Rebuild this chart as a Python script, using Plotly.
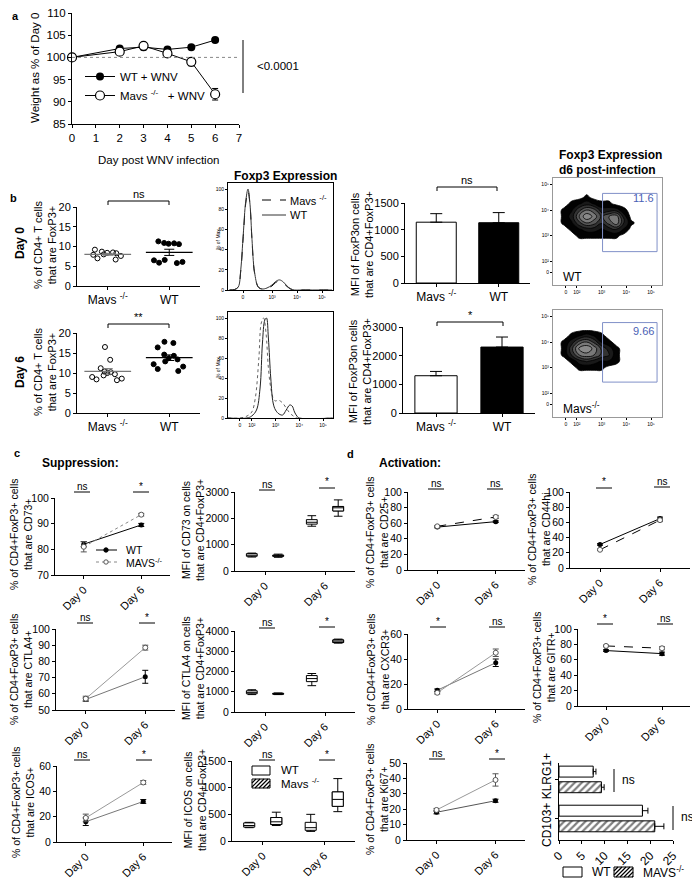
import numpy as np
import plotly.graph_objects as go

# the page body keeps its default 8px margin, so the figure is 8px smaller
# and every pixel position below is measured in window coordinates
OFF = 8
W, H = 700 - OFF, 885 - OFF
FONT = "Liberation Sans, Arial, sans-serif"

# ---------------- panel a: body weight
days_a = [0, 2, 3, 4, 5, 6]
wt_weight = [100, 102.0, 102.3, 101.8, 102.3, 103.9]
wt_weight_err = [0, 0.4, 0.6, 0.4, 0.4, 0.4]
mavs_weight = [100, 101.3, 102.6, 100.9, 99.0, 91.7]
mavs_weight_err = [0, 0.4, 0.6, 0.8, 0.9, 1.3]

# ---------------- panel b: % FoxP3+ of CD4+ T cells
mavs_treg_d0 = [9.2, 8.7, 8.4, 8.0, 7.6, 7.9, 6.7, 7.0, 8.3, 8.5]
wt_treg_d0 = [10.8, 10.6, 10.7, 10.9, 11.3, 6.5, 5.9, 5.8, 6.1, 6.6]
mavs_treg_d6 = [16.5, 13.3, 11.2, 10.4, 10.2, 10.0, 9.7, 9.4, 9.0, 8.6, 8.4, 8.2]
wt_treg_d6 = [17.8, 17.5, 16.4, 14.6, 14.3, 13.7, 13.4, 12.9, 12.2, 11.6, 11.0, 10.5]

# FoxP3 MFI bars (Mavs, WT)
mfi_d0 = [1140, 1130]
mfi_d0_err = [160, 190]
mfi_d6 = [1300, 2300]
mfi_d6_err = [150, 350]

# histograms (x in log decades, y in % of max)
hist_d0_x = [1.3, 1.5, 1.65, 1.75, 1.85, 1.95, 2.04, 2.12, 2.2, 2.3, 2.45, 2.6, 2.8,
             3.0, 3.15, 3.3, 3.45, 3.6, 3.75, 3.9, 4.2, 5.4]
hist_d0_wt = [0, 0.5, 3, 20, 55, 88, 100, 85, 50, 18, 3, 1, 2, 5, 8.5, 10, 8, 4, 1, 0, 0, 0]
hist_d0_mavs = [0, 0.5, 3, 19, 53, 86, 98, 84, 49, 17, 3, 1, 2, 4, 7.5, 9, 7, 3.5, 1, 0, 0, 0]
hist_d6_wt_x = [1.0, 1.8, 2.0, 2.2, 2.35, 2.45, 2.55, 2.62, 2.7, 2.8, 2.9, 3.0, 3.15, 3.3,
                3.45, 3.6, 3.7, 3.8, 3.9, 4.0, 5.4]
hist_d6_wt = [0, 0, 2, 8, 30, 75, 98, 100, 80, 40, 15, 8, 4, 3, 8, 13, 12, 6, 2, 0, 0]
hist_d6_mavs_x = [1.0, 1.5, 1.8, 2.0, 2.15, 2.3, 2.4, 2.5, 2.6, 2.7, 2.8, 2.9, 3.0, 3.1,
                  3.2, 3.3, 3.45, 3.6, 3.75, 3.9, 5.4]
hist_d6_mavs = [0, 0, 2, 6, 20, 60, 95, 100, 85, 50, 30, 20, 17, 18, 17, 15, 10, 5, 2, 0, 0]

# flow contour densities
flow_x = [1.2, 1.5, 1.8, 2.1, 2.4, 2.7, 3.0, 3.3, 3.6, 3.9, 4.2, 4.5]
flow_y = [2.75, 3.0, 3.25, 3.5, 3.75, 4.0, 4.25, 4.5, 4.75]
flow_wt_d6 = [
    [0, 0, 0, 0, 0, 0, 0, 0, 0, 0, 0, 0],
    [0, 0, 0, 1, 1, 1, 1, 1, 1, 0, 0, 0],
    [0, 0, 1, 2, 3, 3, 2, 3, 4, 2, 0, 0],
    [0, 1, 2, 5, 7, 6, 4, 6, 8, 4, 1, 0],
    [0, 1, 3, 7, 10, 8, 5, 7, 8, 3, 0, 0],
    [0, 1, 2, 5, 7, 6, 3, 3, 3, 1, 0, 0],
    [0, 0, 1, 2, 3, 2, 1, 1, 0, 0, 0, 0],
    [0, 0, 0, 0, 1, 0, 0, 0, 0, 0, 0, 0],
    [0, 0, 0, 0, 0, 0, 0, 0, 0, 0, 0, 0],
]
flow_mavs_d6 = [
    [0, 0, 0, 0, 0, 0, 0, 0, 0, 0, 0, 0],
    [0, 0, 0, 1, 1, 1, 1, 0, 0, 0, 0, 0],
    [0, 0, 1, 3, 4, 3, 2, 2, 1, 0, 0, 0],
    [0, 1, 4, 7, 8, 7, 5, 4, 1, 0, 0, 0],
    [0, 1, 5, 9, 10, 8, 5, 3, 1, 0, 0, 0],
    [0, 1, 3, 6, 7, 5, 2, 1, 0, 0, 0, 0],
    [0, 0, 1, 2, 3, 2, 1, 0, 0, 0, 0, 0],
    [0, 0, 0, 0, 0, 0, 0, 0, 0, 0, 0, 0],
    [0, 0, 0, 0, 0, 0, 0, 0, 0, 0, 0, 0],
]
gate_wt = [3.04, 5.24, 2.38, 4.65]
gate_mavs = [3.04, 5.24, 2.44, 4.76]

# ---------------- panels c/d: day 0 / day 6 (mean, error)
cd73_wt, cd73_wt_err = [82, 89.5], [1, 0.6]
cd73_mavs, cd73_mavs_err = [81, 93.5], [2, 0.5]
ctla4_wt, ctla4_wt_err = [56.5, 70.5], [1, 4]
ctla4_mavs, ctla4_mavs_err = [57, 88.5], [1.5, 1.5]
icos_wt, icos_wt_err = [16, 32], [3, 1.5]
icos_mavs, icos_mavs_err = [19, 47], [3, 1.5]
cd25_wt, cd25_wt_err = [55, 62], [1, 1]
cd25_mavs, cd25_mavs_err = [56, 68], [1, 2]
cd44_wt, cd44_wt_err = [31, 65], [1, 2]
cd44_mavs, cd44_mavs_err = [24, 63], [1, 2]
cxcr3_wt, cxcr3_wt_err = [15, 37], [1, 3]
cxcr3_mavs, cxcr3_mavs_err = [13, 45], [1, 3]
gitr_wt, gitr_wt_err = [72, 68], [1, 2]
gitr_mavs, gitr_mavs_err = [78, 75], [1, 2]
ki67_wt, ki67_wt_err = [18, 25.5], [1, 1]
ki67_mavs, ki67_mavs_err = [19.5, 39], [1, 4]

# box stats [low, q1, median, q3, high] for day 0, day 6
cd73_mfi_wt = [[530, 560, 600, 660, 680], [1700, 1780, 1850, 1950, 2100]]
cd73_mfi_mavs = [[520, 560, 580, 600, 640], [2080, 2280, 2400, 2450, 2700]]
ctla4_mfi_wt = [[860, 900, 970, 1050, 1100], [1300, 1500, 1650, 1800, 1900]]
ctla4_mfi_mavs = [[860, 880, 900, 920, 940], [3400, 3430, 3500, 3560, 3600]]
icos_mfi_wt = [[250, 260, 290, 340, 350], [180, 200, 250, 350, 500]]
icos_mfi_mavs = [[290, 310, 360, 440, 540], [550, 650, 780, 920, 1170]]

# CD103+ KLRG1+ (two groups)
klrg_wt, klrg_wt_err = [7.5, 18.3], [0.6, 1.2]
klrg_mavs, klrg_mavs_err = [9.3, 21.0], [0.6, 2.0]

days_text = ["Day 0", "Day 6"]
geno_text = ["Mavs <sup>-/-</sup>", "WT"]

# ---------------------------------------------------------------
AXIS = dict(showline=True, linecolor="black", linewidth=1, ticks="outside", ticklen=3,
            tickwidth=1, tickcolor="black", showgrid=False, zeroline=False,
            tickfont=dict(size=11, color="black"), fixedrange=True, automargin=False,
            ticklabeloverflow="allow")

layout = dict(width=W, height=H, autosize=False,
              margin=dict(l=0, r=0, t=0, b=0, pad=0, autoexpand=False),
              paper_bgcolor="white", plot_bgcolor="white",
              font=dict(family=FONT, color="black"), barmode="overlay",
              boxmode="overlay", showlegend=True)
traces = []
annotations = []
shapes = []
n_axes = 0


def fx(px):
    return (px - OFF) / W


def fy(py):
    return 1 - (py - OFF) / H


def new_axes(box, xa, ya):
    global n_axes
    n_axes += 1
    s = "" if n_axes == 1 else str(n_axes)
    x0, x1, y0, y1 = box
    xd = dict(AXIS, domain=[fx(x0), fx(x1)], anchor="y" + s)
    xd.update(xa)
    yd = dict(AXIS, domain=[fy(y1), fy(y0)], anchor="x" + s)
    yd.update(ya)
    layout["xaxis" + s] = xd
    layout["yaxis" + s] = yd
    return "x" + s, "y" + s


def text(px, py, s, size=11, bold=False, angle=0, xanchor="center", color="black"):
    if bold:
        s = "<b>" + s + "</b>"
    annotations.append(dict(x=fx(px), y=fy(py), xref="paper", yref="paper", text=s,
                            showarrow=False, font=dict(size=size, color=color),
                            textangle=angle, xanchor=xanchor, yanchor="middle"))


def seg(x0, y0, x1, y1, width=1, color="black", dash="solid"):
    shapes.append(dict(type="line", xref="paper", yref="paper", x0=fx(x0), x1=fx(x1),
                       y0=fy(y0), y1=fy(y1), line=dict(width=width, color=color, dash=dash)))


def rect(x0, y0, x1, y1):
    shapes.append(dict(type="rect", xref="paper", yref="paper", x0=fx(x0), x1=fx(x1),
                       y0=fy(y1), y1=fy(y0), fillcolor="white",
                       line=dict(width=1, color="black")))


def dot(cx, cy, r, fill, edge="black"):
    shapes.append(dict(type="circle", xref="paper", yref="paper", x0=fx(cx - r),
                       x1=fx(cx + r), y0=fy(cy + r), y1=fy(cy - r), fillcolor=fill,
                       line=dict(width=1, color=edge)))


def hatch(x0, y0, x1, y1, step=4):
    # diagonal "/" lines clipped to the rectangle (pixel coords, y downwards)
    s = x0 + y0 + step
    while s < x1 + y1:
        xa_, xb_ = max(x0, s - y1), min(x1, s - y0)
        if xb_ > xa_:
            seg(xa_, s - xa_, xb_, s - xb_, width=1.2)
        s += step


def sig(px, py, s, half=8):
    text(px, py - 6, s, size=10)
    seg(px - half, py, px + half, py)


def bracket(xa, xb, py, s):
    seg(xa, py, xb, py)
    seg(xa, py, xa, py + 4)
    seg(xb, py, xb, py + 4)
    text((xa + xb) / 2, py - 7, s, size=11)


# ---------------- panel a
xr, yr = new_axes((72, 239, 13, 124), dict(range=[0, 7], dtick=1, tickfont=dict(size=11.5)),
                  dict(range=[85, 110], dtick=5, tickfont=dict(size=11.5)))
shapes.append(dict(type="line", xref=xr, yref=yr, x0=0, x1=7, y0=100, y1=100,
                   line=dict(color="#888", width=1, dash="dot")))
traces.append(go.Scatter(x=days_a, y=wt_weight, mode="lines+markers", name="WT + WNV",
                         marker=dict(size=8, color="black"), line=dict(color="black", width=1),
                         error_y=dict(array=wt_weight_err, color="black", thickness=1, width=3),
                         xaxis=xr, yaxis=yr, legend="legend", cliponaxis=False))
traces.append(go.Scatter(x=days_a, y=mavs_weight, mode="lines+markers",
                         name="Mavs <sup>-/-</sup>   + WNV",
                         marker=dict(size=9, color="white", line=dict(color="black", width=1.2)),
                         line=dict(color="black", width=1),
                         error_y=dict(array=mavs_weight_err, color="black", thickness=1, width=3),
                         xaxis=xr, yaxis=yr, legend="legend", cliponaxis=False))
layout["legend"] = dict(x=fx(80), y=fy(62), xanchor="left", yanchor="top",
                        font=dict(size=11.5), bgcolor="rgba(0,0,0,0)", itemwidth=30,
                        tracegroupgap=0)
seg(243, 40, 243, 93)
text(255, 66, "<0.0001", size=11.5, xanchor="left")
text(35, 68, "Weight as % of Day 0", size=11.5, angle=-90)
text(158, 160, "Day post WNV infection", size=11.5)
text(15, 16, "a", size=11, bold=True)


# ---------------- panel b
def dot_panel(box, mavs_vals, wt_vals):
    xa, ya = new_axes(box, dict(range=[-0.5, 1.5], tickvals=[0, 1], ticktext=geno_text,
                                tickfont=dict(size=12)),
                      dict(range=[0, 20], dtick=5, tickfont=dict(size=11)))
    for c, vals, sym, mcol in [(0, mavs_vals, "circle-open", "#777"),
                               (1, wt_vals, "circle", "black")]:
        traces.append(go.Box(x=[c] * len(vals), y=vals, boxpoints="all", jitter=1, pointpos=0,
                             width=0.6, fillcolor="rgba(0,0,0,0)",
                             line=dict(width=0, color="rgba(0,0,0,0)"),
                             marker=dict(symbol=sym, size=5, color="black",
                                         line=dict(width=1, color="black")),
                             orientation="v", showlegend=False, xaxis=xa, yaxis=ya))
        m = float(np.mean(vals))
        sem = float(np.std(vals, ddof=1) / np.sqrt(len(vals)))
        traces.append(go.Scatter(x=[c - 0.38, c + 0.38], y=[m, m], mode="lines",
                                 line=dict(color=mcol, width=1.2), showlegend=False,
                                 xaxis=xa, yaxis=ya))
        traces.append(go.Scatter(x=[c], y=[m], mode="markers",
                                 marker=dict(size=1, color="rgba(0,0,0,0)"),
                                 error_y=dict(array=[sem], color=mcol, thickness=1, width=5),
                                 showlegend=False, xaxis=xa, yaxis=ya))


dot_panel((77, 200, 207, 286), mavs_treg_d0, wt_treg_d0)
dot_panel((77, 200, 333, 413), mavs_treg_d6, wt_treg_d6)
bracket(108, 169, 201, "ns")
bracket(108, 169, 324, "**")
text(45, 245, "% of CD4+ T cells<br>that are FoxP3+", size=11, angle=-90)
text(45, 372, "% of CD4+ T cells<br>that are FoxP3+", size=11, angle=-90)
text(20, 243, "Day 0", size=12, bold=True, angle=-90)
text(20, 372, "Day 6", size=12, bold=True, angle=-90)
text(13, 198, "b", size=11, bold=True)

HIST_X = dict(range=[1.24, 5.44], tickvals=[1.84, 3, 4, 5], ticktext=["0", "10³", "10⁴", "10⁵"],
              tickfont=dict(size=5), ticklen=2, mirror=True)
HIST_Y = dict(range=[0, 106], tickvals=[0, 20, 40, 60, 80, 100], tickfont=dict(size=5),
              ticklen=2, mirror=True)
xa, ya = new_axes((228, 333, 183, 290), HIST_X, HIST_Y)
traces.append(go.Scatter(x=hist_d0_x, y=hist_d0_mavs, mode="lines", showlegend=False,
                         line=dict(color="black", width=1, dash="dash", shape="spline"),
                         xaxis=xa, yaxis=ya))
traces.append(go.Scatter(x=hist_d0_x, y=hist_d0_wt, mode="lines", showlegend=False,
                         line=dict(color="#333", width=1, shape="spline"),
                         xaxis=xa, yaxis=ya))
# histogram key
seg(262, 200, 286, 200, dash="dash")
text(288, 200, "Mavs <sup>-/-</sup>", size=11, xanchor="left")
seg(262, 215, 286, 215, color="#333")
text(288, 215, "WT", size=11, xanchor="left")

xa, ya = new_axes((228, 333, 312, 418),
                  dict(HIST_X, tickvals=[1.5, 2, 3, 4, 5],
                       ticktext=["0", "10²", "10³", "10⁴", "10⁵"], range=[1.0, 5.42]), HIST_Y)
traces.append(go.Scatter(x=hist_d6_mavs_x, y=hist_d6_mavs, mode="lines", showlegend=False,
                         line=dict(color="#666", width=1, dash="dot", shape="spline"),
                         xaxis=xa, yaxis=ya))
traces.append(go.Scatter(x=hist_d6_wt_x, y=hist_d6_wt, mode="lines", showlegend=False,
                         line=dict(color="#222", width=1, shape="spline"),
                         xaxis=xa, yaxis=ya))
text(218, 240, "% of Max", size=5, angle=-90)
text(218, 368, "% of Max", size=5, angle=-90)
text(285, 176, "Foxp3 Expression", size=12, bold=True)


def mfi_bar(box, vals, errs, yrange, dtick):
    xa, ya = new_axes(box, dict(range=[-0.5, 1.5], tickvals=[0, 1], ticktext=geno_text,
                                tickfont=dict(size=12)),
                      dict(range=yrange, dtick=dtick, tickfont=dict(size=11)))
    traces.append(go.Bar(x=[0, 1], y=vals, width=0.64,
                         marker=dict(color=["white", "black"], line=dict(color="black", width=1)),
                         error_y=dict(type="data", array=errs, arrayminus=[0, 0], symmetric=False,
                                      color="black", thickness=1, width=6),
                         showlegend=False, xaxis=xa, yaxis=ya))


mfi_bar((405, 530, 203, 283), mfi_d0, mfi_d0_err, [0, 1500], 500)
mfi_bar((403, 535, 327, 413), mfi_d6, mfi_d6_err, [0, 3000], 1000)
bracket(437, 497, 187, "ns")
bracket(437, 503, 322, "*")
text(362, 245, "MFI of FoxP3on cells<br>that are CD4+FoxP3+", size=11, angle=-90)
text(360, 372, "MFI of FoxP3on cells<br>that are CD4+FoxP3+", size=11, angle=-90)

FLOW_X = dict(range=[1.04, 5.44], tickvals=[1.56, 2, 3, 4, 5],
              ticktext=["0", "10²", "10³", "10⁴", "10⁵"], tickfont=dict(size=5), ticklen=2,
              mirror=True, linecolor="#999")
FLOW_Y = dict(range=[1.08, 5.25], tickvals=[1.58, 2, 3, 4, 5],
              ticktext=["0", "10²", "10³", "10⁴", "10⁵"], tickfont=dict(size=5), ticklen=2,
              mirror=True, linecolor="#999")
FLOW_SCALE = [[0, "white"], [0.07, "white"], [0.08, "#000"], [0.45, "#2a2a2a"],
              [1, "#8a8a8a"]]
for box, z, gate, pct, lab, gy, ly in [
        ((553, 662, 178, 285), flow_wt_d6, gate_wt, "11.6", "WT", 198, 277),
        ((553, 662, 310, 417), flow_mavs_d6, gate_mavs, "9.66", "Mavs<sup>-/-</sup>", 331, 408)]:
    xa, ya = new_axes(box, FLOW_X, FLOW_Y)
    traces.append(go.Contour(x=flow_x, y=flow_y, z=z, zmin=0, zmax=10, colorscale=FLOW_SCALE,
                             showscale=False,
                             contours=dict(start=0.6, end=10, size=1.6, coloring="fill"),
                             line=dict(color="black", width=0.8, smoothing=1.3),
                             xaxis=xa, yaxis=ya))
    shapes.append(dict(type="rect", xref=xa, yref=ya, x0=gate[0], x1=gate[1], y0=gate[2],
                       y1=gate[3], line=dict(color="#8090c8", width=1)))
    text(656, gy, pct, size=11, color="#4a5fb5", xanchor="right")
    text(561, ly, lab, size=12, xanchor="left")
text(557, 155, "Foxp3 Expression", size=12, bold=True, xanchor="left")
text(557, 170, "d6 post-infection", size=12, bold=True, xanchor="left")

# ---------------- panels c/d
DAY_X = dict(range=[-0.5, 1.5], tickvals=[0, 1], ticktext=days_text, tickangle=-45,
             tickfont=dict(size=11))
Y_CD = dict(tickfont=dict(size=10.5))


def line_panel(box, yrange, dtick, wt, wt_err, mv, mv_err, wt_col, mv_col, mv_dash):
    xa, ya = new_axes(box, DAY_X, dict(Y_CD, range=yrange, dtick=dtick))
    traces.append(go.Scatter(x=[0, 1], y=wt, mode="lines+markers", showlegend=False,
                             marker=dict(size=5, color="black", symbol="circle"),
                             line=dict(color=wt_col, width=1),
                             error_y=dict(array=wt_err, color="black", thickness=1, width=3),
                             xaxis=xa, yaxis=ya, cliponaxis=False))
    traces.append(go.Scatter(x=[0, 1], y=mv, mode="lines+markers", showlegend=False,
                             marker=dict(size=5, color="white", line=dict(color="#555", width=1)),
                             line=dict(color=mv_col, width=1, dash=mv_dash),
                             error_y=dict(array=mv_err, color="#555", thickness=1, width=3),
                             xaxis=xa, yaxis=ya, cliponaxis=False))


line_panel((55, 170, 498, 575), [70, 100], 10, cd73_wt, cd73_wt_err, cd73_mavs, cd73_mavs_err,
           "black", "#888", "dot")
# CD73 key
seg(96, 550, 117, 550)
dot(106, 550, 2.2, "black")
text(124, 550, "WT", size=10.5, xanchor="left")
seg(96, 562, 117, 562, color="#888", dash="dot")
dot(106, 562, 2.2, "white", edge="#555")
text(124, 562, "MAVS<sup>-/-</sup>", size=10.5, xanchor="left")

line_panel((56, 175, 629, 710), [50, 100], 10, ctla4_wt, ctla4_wt_err, ctla4_mavs,
           ctla4_mavs_err, "#777", "#999", "solid")
line_panel((57, 172, 766, 842), [0, 60], 20, icos_wt, icos_wt_err, icos_mavs, icos_mavs_err,
           "#777", "#999", "solid")
line_panel((408, 525, 492, 570), [0, 100], 20, cd25_wt, cd25_wt_err, cd25_mavs, cd25_mavs_err,
           "black", "black", "dash")
line_panel((570, 690, 492, 568), [0, 100], 20, cd44_wt, cd44_wt_err, cd44_mavs, cd44_mavs_err,
           "black", "black", "dash")
line_panel((408, 525, 634, 709), [0, 60], 20, cxcr3_wt, cxcr3_wt_err, cxcr3_mavs,
           cxcr3_mavs_err, "#777", "#999", "solid")
line_panel((578, 690, 629, 706), [0, 100], 20, gitr_wt, gitr_wt_err, gitr_mavs, gitr_mavs_err,
           "black", "black", "dash")
line_panel((407, 525, 763, 840), [0, 50], 10, ki67_wt, ki67_wt_err, ki67_mavs, ki67_mavs_err,
           "#555", "#999", "solid")


def box_panel(box, yrange, dtick, wt_stats, mv_stats):
    xa, ya = new_axes(box, DAY_X, dict(Y_CD, range=yrange, dtick=dtick))
    for stats, off in [(wt_stats, -0.22), (mv_stats, 0.22)]:
        traces.append(go.Box(x=[off, 1 + off], lowerfence=[s[0] for s in stats],
                             q1=[s[1] for s in stats], median=[s[2] for s in stats],
                             q3=[s[3] for s in stats], upperfence=[s[4] for s in stats],
                             width=0.18, whiskerwidth=0.8, fillcolor="white", orientation="v",
                             line=dict(color="black", width=1), showlegend=False,
                             xaxis=xa, yaxis=ya))
    traces.append(go.Bar(x=[0.22, 1.22], base=[s[1] for s in mv_stats],
                         y=[s[3] - s[1] for s in mv_stats], width=0.18, showlegend=False,
                         marker=dict(color="white", line=dict(color="black", width=1),
                                     pattern=dict(shape="/", fgcolor="black", bgcolor="white",
                                                  size=5, solidity=0.45)),
                         xaxis=xa, yaxis=ya))


box_panel((235, 355, 492, 571), [0, 3000], 1000, cd73_mfi_wt, cd73_mfi_mavs)
box_panel((235, 355, 631, 712), [0, 4000], 1000, ctla4_mfi_wt, ctla4_mfi_mavs)
box_panel((232, 355, 761, 841), [0, 1500], 500, icos_mfi_wt, icos_mfi_mavs)
# ICOS key
rect(252, 766, 270, 775)
text(279, 770, "WT", size=11.5, xanchor="left")
rect(252, 779, 270, 788)
hatch(252, 779, 270, 788)
text(279, 783, "Mavs <sup>-/-</sup>", size=11.5, xanchor="left")

# CD103+ KLRG1+ horizontal bars
xa, ya = new_axes((559, 673, 763, 840),
                  dict(range=[0, 25], dtick=5, tickangle=-45, tickfont=dict(size=12)),
                  dict(range=[1.55, -0.42], tickvals=[0, 1], showticklabels=False))
for vals, errs, off, pat in [(klrg_wt, klrg_wt_err, -0.2, ""),
                             (klrg_mavs, klrg_mavs_err, 0.2, "/")]:
    traces.append(go.Bar(y=[off, 1 + off], x=vals, orientation="h", width=0.28,
                         marker=dict(color="white", line=dict(color="black", width=1),
                                     pattern=dict(shape=pat, fgcolor="black", bgcolor="white",
                                                  size=5, solidity=0.45)),
                         error_x=dict(type="data", array=errs, arrayminus=[0, 0],
                                      symmetric=False, color="black", thickness=1, width=3),
                         showlegend=False, xaxis=xa, yaxis=ya))
# bottom key
rect(563, 867, 582, 877)
text(590, 872, "WT", size=12, xanchor="left")
rect(614, 867, 633, 877)
hatch(614, 867, 633, 877)
text(641, 872, "MAVS<sup>-/-</sup>", size=12, xanchor="left")
seg(614, 769, 614, 792)
text(620, 780, "ns", size=12, xanchor="left")
seg(673, 806, 673, 830)
text(679, 817, "ns", size=12, xanchor="left")
text(547, 800, "CD103+ KLRG1+", size=12, angle=-90)

# significance marks
sig(82, 492, "ns"); sig(141, 492, "*")
sig(267, 490, "ns"); sig(327, 488, "*")
sig(85, 623, "ns"); sig(147, 623, "*")
sig(267, 628, "ns"); sig(327, 627, "*")
sig(82, 760, "ns"); sig(144, 760, "*")
sig(267, 760, "ns"); sig(327, 760, "*")
sig(436, 489, "ns"); sig(495, 489, "ns")
sig(604, 488, "*"); sig(662, 487, "ns")
sig(438, 627, "*"); sig(497, 627, "ns")
sig(605, 624, "*"); sig(665, 624, "ns")
sig(437, 759, "ns"); sig(497, 759, "*")

# y titles c/d
CELLS = "% of CD4+FoxP3+ cells<br>that are "
text(21, 535, CELLS + "CD73+", size=10.5, angle=-90)
text(193, 530, "MFI of CD73 on cells<br>that are CD4+FoxP3+", size=10.5, angle=-90)
text(21, 670, CELLS + "CTLA4+", size=10.5, angle=-90)
text(193, 668, "MFI of CTLA4 on cells<br>that are CD4+FoxP3+", size=10.5, angle=-90)
text(23, 803, CELLS + "ICOS+", size=10.5, angle=-90)
text(195, 800, "MFI of ICOS on cells<br>that are CD4+FoxP3+", size=10.5, angle=-90)
text(377, 533, CELLS + "CD25+", size=10.5, angle=-90)
text(539, 530, CELLS + "CD44hi", size=10.5, angle=-90)
text(378, 670, CELLS + "CXCR3+", size=10.5, angle=-90)
text(544, 668, CELLS + "GITR+", size=10.5, angle=-90)
text(377, 800, CELLS + "Ki67+", size=10.5, angle=-90)

text(17, 453, "c", size=11, bold=True)
text(350, 454, "d", size=11, bold=True)
text(40, 463, "Suppression:", size=12, bold=True, xanchor="left")
text(377, 463, "Activation:", size=12, bold=True, xanchor="left")

layout["annotations"] = annotations
layout["shapes"] = shapes

fig = go.Figure(data=traces, layout=layout)
fig.write_html("out.html")
